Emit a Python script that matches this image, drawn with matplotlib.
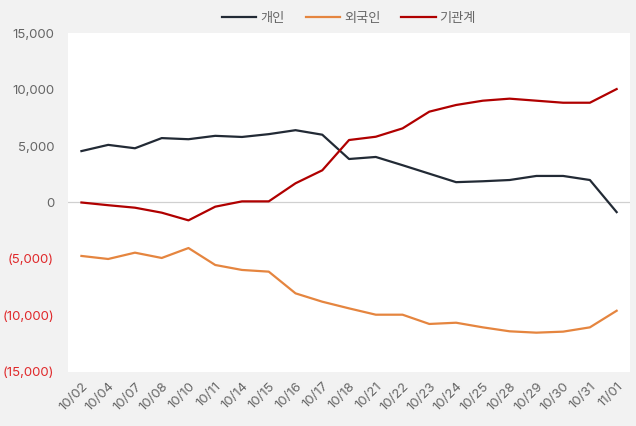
import matplotlib.pyplot as plt
from matplotlib.ticker import FuncFormatter

dates = ["10/02", "10/04", "10/07", "10/08", "10/10", "10/11", "10/14", "10/15",
         "10/16", "10/17", "10/18", "10/21", "10/22", "10/23", "10/24", "10/25",
         "10/28", "10/29", "10/30", "10/31", "11/01"]
individual = [4550, 5100, 4800, 5700, 5600, 5900, 5800, 6050, 6400, 6000, 3850,
              4030, 3300, 2550, 1800, 1880, 1990, 2350, 2350, 1990, -850]
foreign = [-4730, -5000, -4440, -4910, -4030, -5530, -5970, -6120, -8040, -8780,
           -9370, -9930, -9930, -10750, -10640, -11050, -11400, -11520, -11430,
           -11050, -9580]
institution = [0, -240, -460, -900, -1580, -370, 100, 100, 1700, 2850, 5530,
               5820, 6560, 8040, 8630, 9010, 9190, 9010, 8830, 8830, 10040]

plt.rcParams['font.family'] = ['Inter', 'Noto Sans CJK KR', 'DejaVu Sans']

fig = plt.figure(figsize=(6.36, 4.26), dpi=100, facecolor='#f2f2f2')
ax = fig.add_axes([0.107, 0.1268, 0.8836, 0.7957])
ax.set_facecolor('white')

x = list(range(len(dates)))
ax.plot(x, individual, color='#222a35', lw=1.6, label='개인')
ax.plot(x, foreign, color='#e5853f', lw=1.6, label='외국인')
ax.plot(x, institution, color='#b00000', lw=1.6, label='기관계')
ax.axhline(0, color='#d0d0d0', lw=0.9, zorder=0)

ax.set_xlim(-0.5, len(dates) - 0.5)
ax.set_ylim(-15000, 15000)
ax.set_yticks(range(-15000, 15001, 5000))

# negatives shown in parentheses, red
def fmt(v, pos):
    if v < 0:
        return "({:,.0f})".format(-v)
    return "{:,.0f}".format(v)

ax.yaxis.set_major_formatter(FuncFormatter(fmt))
ax.set_xticks(x)
ax.set_xticklabels(dates, rotation=45, ha='right', rotation_mode='anchor')

for lab, v in zip(ax.get_yticklabels(), ax.get_yticks()):
    lab.set_color('#e0292b' if v < 0 else '#666666')
for lab in ax.get_xticklabels():
    lab.set_color('#666666')

ax.tick_params(axis='both', length=0, labelsize=9.5)
ax.tick_params(axis='y', pad=10)
ax.tick_params(axis='x', pad=6)
for s in ax.spines.values():
    s.set_visible(False)

leg = ax.legend(loc='lower center', bbox_to_anchor=(0.5, 1.0), ncol=3,
                frameon=False, fontsize=9.5, handlelength=2.6, handletextpad=0.3,
                columnspacing=1.6, borderaxespad=0.2)
for t in leg.get_texts():
    t.set_color('#666666')

fig.savefig('out.png', dpi=100, facecolor=fig.get_facecolor())
